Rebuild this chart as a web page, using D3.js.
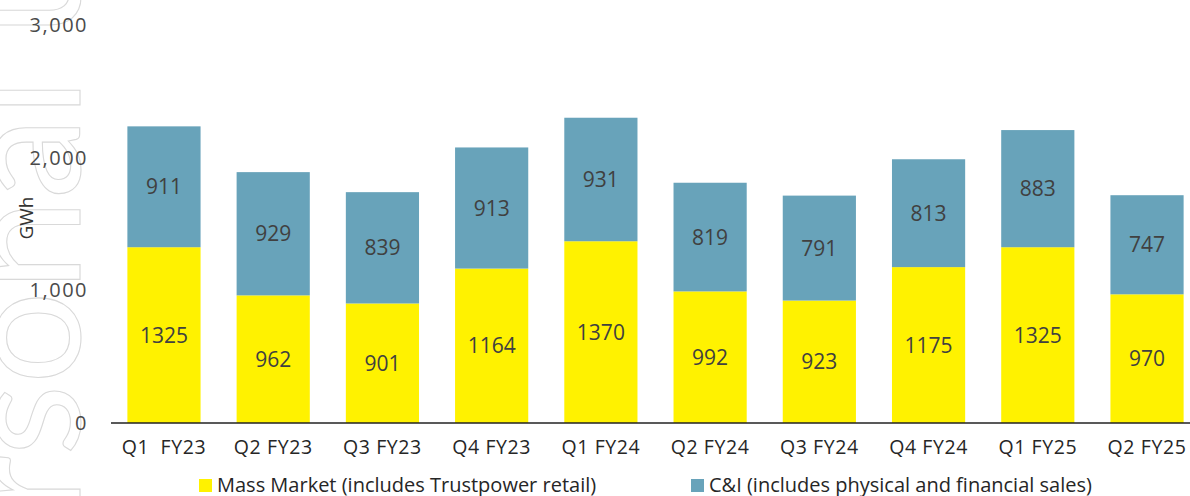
<!DOCTYPE html>
<html>
<head>
<meta charset="utf-8">
<script src="https://cdn.jsdelivr.net/npm/d3@7"></script>
<style>
  body { margin: 0; background: #fff; }
  svg { display: block; font-family: "Open Sans", sans-serif; }
</style>
</head>
<body>
<script>
// data
var quarters = ["Q1  FY23", "Q2 FY23", "Q3 FY23", "Q4 FY23", "Q1 FY24",
                "Q2 FY24", "Q3 FY24", "Q4 FY24", "Q1 FY25", "Q2 FY25"];
var massMarket = [1325, 962, 901, 1164, 1370, 992, 923, 1175, 1325, 970];
var cAndI = [911, 929, 839, 913, 931, 819, 791, 813, 883, 747];
var yTicks = [0, 1000, 2000, 3000];
var seriesNames = ["Mass Market (includes Trustpower retail)", "C&I (includes physical and financial sales)"];
var colors = ["#fff200", "#68a3ba"];

var width = 1190, height = 496;

var svg = d3.select("body").append("svg")
    .attr("width", width)
    .attr("height", height);

// faint outlined watermark down the left edge
var wmStr = "For personal use only";
var wm = svg.append("text")
    .attr("font-family", "Lato, sans-serif")
    .attr("font-size", 165)
    .attr("fill", "none")
    .attr("stroke", "#d9d9d9")
    .attr("stroke-width", 1.1)
    .text(wmStr);
var lEnd = wm.node().getSubStringLength(0, wmStr.indexOf("l") + 1);
wm.attr("transform", "translate(80," + (78 + lEnd) + ") rotate(-90)");

// scales
var x = d3.scaleBand().domain(quarters).range([111, 1200]).paddingInner(0.33).paddingOuter(0.15);
var y = d3.scaleLinear().domain([0, 3000]).range([423, 25]);

var stacked = quarters.map(function(q, i) {
  return { q: q, parts: [
    { v: massMarket[i], y0: 0, y1: massMarket[i], c: colors[0] },
    { v: cAndI[i], y0: massMarket[i], y1: massMarket[i] + cAndI[i], c: colors[1] }
  ]};
});

// y axis labels
var yAxis = d3.axisLeft(y).tickValues(yTicks).tickSize(0).tickPadding(0)
    .tickFormat(d3.format(","));
svg.append("g")
    .attr("transform", "translate(88,0)")
    .call(yAxis)
    .call(g => g.select(".domain").remove())
    .selectAll("text")
    .attr("font-size", 20)
    .attr("letter-spacing", 1.5)
    .attr("font-family", "'Open Sans', sans-serif")
    .attr("fill", "#4a4a4a");

svg.append("text")
    .attr("transform", "translate(33,218) rotate(-90)")
    .attr("text-anchor", "middle")
    .attr("font-size", 19)
    .attr("fill", "#333")
    .text("GWh");

// bars
var groups = svg.selectAll(".bar")
    .data(stacked)
    .enter().append("g")
    .attr("class", "bar");

groups.selectAll("rect")
    .data(d => d.parts.map(p => Object.assign({ q: d.q }, p)))
    .enter().append("rect")
    .attr("x", d => x(d.q))
    .attr("width", x.bandwidth())
    .attr("y", d => y(d.y1))
    .attr("height", d => y(d.y0) - y(d.y1))
    .attr("fill", d => d.c);

groups.selectAll("text")
    .data(d => d.parts.map(p => Object.assign({ q: d.q }, p)))
    .enter().append("text")
    .attr("x", d => x(d.q) + x.bandwidth() / 2)
    .attr("y", d => (y(d.y0) + y(d.y1)) / 2)
    .attr("dy", "0.36em")
    .attr("text-anchor", "middle")
    .attr("font-size", 21)
    .attr("fill", "#404040")
    .text(d => d.v);

// x axis
var xAxis = d3.axisBottom(x).tickSize(0).tickPadding(17);
svg.append("g")
    .attr("transform", "translate(0,423)")
    .call(xAxis)
    .call(g => g.select(".domain").attr("stroke", "#222").attr("stroke-width", 1.5)
      .attr("d", "M111,0H1190"))
    .selectAll("text")
    .attr("font-size", 19.5)
    .attr("letter-spacing", 0.6)
    .attr("font-family", "'Open Sans', sans-serif")
    .attr("fill", "#262626")
    .style("white-space", "pre");

// legend
var legendX = [199, 691];
var legend = svg.selectAll(".legend")
    .data(seriesNames)
    .enter().append("g")
    .attr("class", "legend")
    .attr("transform", (d, i) => "translate(" + legendX[i] + ",479)");
legend.append("rect")
    .attr("width", 13).attr("height", 13)
    .attr("fill", (d, i) => colors[i]);
legend.append("text")
    .attr("x", 18).attr("y", 12.5)
    .attr("font-size", 20)
    .attr("fill", "#262626")
    .text(d => d);
</script>
</body>
</html>
